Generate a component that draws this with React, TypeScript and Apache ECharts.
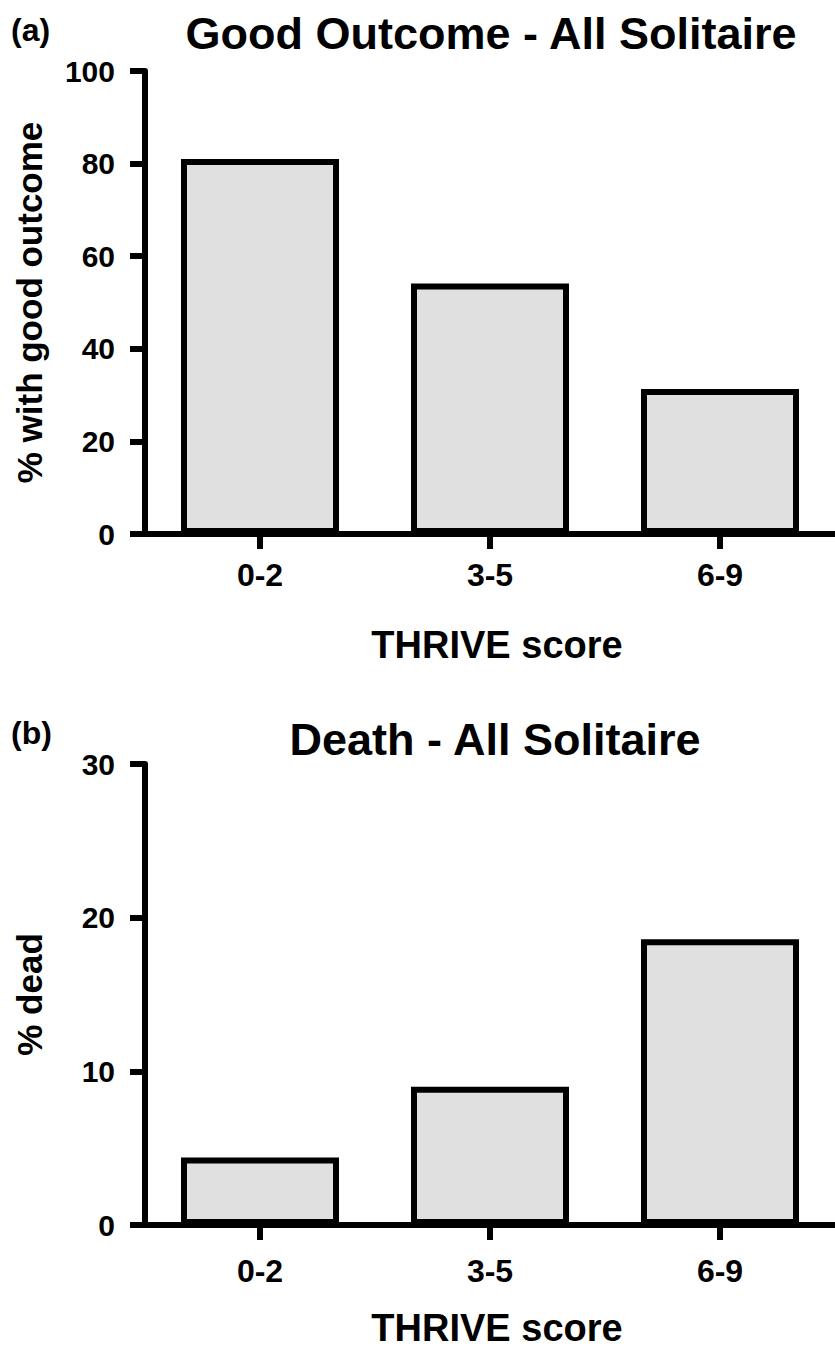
import React, { useEffect, useRef } from "react";
import * as echarts from "echarts";

const categories = ["0-2", "3-5", "6-9"];
const goodOutcomePct = [81.0, 54.1, 31.3];
const deathPct = [4.4, 9.0, 18.6];
const goodAxis = { min: 0, max: 100, interval: 20 };
const deathAxis = { min: 0, max: 30, interval: 10 };
const titles = ["Good Outcome - All Solitaire", "Death - All Solitaire"];
const panelLabels = ["(a)", "(b)"];
const yNames = ["% with good outcome", "% dead"];
const xName = "THRIVE score";

const FONT = "'Liberation Sans', Arial, Helvetica, sans-serif";
const LINE = { color: "#000", width: 6 };

function xAxisFor(gridIndex: number, margin: number, nameGap: number) {
  return {
    type: "category",
    gridIndex,
    data: categories,
    axisLine: { show: true, lineStyle: LINE },
    axisTick: { show: true, alignWithLabel: true, length: 15, lineStyle: LINE },
    axisLabel: { color: "#000", fontSize: 32, fontWeight: "bold", fontFamily: FONT, margin },
    name: xName,
    nameLocation: "middle",
    nameGap,
    nameTextStyle: { color: "#000", fontSize: 38, fontWeight: "bold", fontFamily: FONT, padding: [0, 0, 0, 14] },
  };
}

function yAxisFor(gridIndex: number, ax: { min: number; max: number; interval: number }, name: string) {
  return {
    type: "value",
    gridIndex,
    min: ax.min,
    max: ax.max,
    interval: ax.interval,
    splitLine: { show: false },
    axisLine: { show: true, lineStyle: LINE },
    axisTick: { show: true, length: 15, lineStyle: LINE },
    axisLabel: { color: "#000", fontSize: 30, fontWeight: "bold", fontFamily: FONT, margin: 30 },
    name,
    nameLocation: "middle",
    nameGap: 98,
    nameRotate: 90,
    nameTextStyle: { color: "#000", fontSize: 35, fontWeight: "bold", fontFamily: FONT },
  };
}

function barSeries(idx: number, data: number[]) {
  return {
    type: "bar",
    xAxisIndex: idx,
    yAxisIndex: idx,
    data,
    barWidth: 158,
    itemStyle: { color: "#e0e0e0", borderColor: "#000", borderWidth: 6 },
  };
}

function textEl(text: string, x: number, y: number, size: number, align: string) {
  return {
    type: "text",
    x,
    y,
    style: {
      text,
      fill: "#000",
      font: `bold ${size}px ${FONT}`,
      textAlign: align,
      textVerticalAlign: "middle",
    },
  };
}

export default function App() {
  const ref = useRef<HTMLDivElement>(null);
  useEffect(() => {
    if (!ref.current) return;
    const chart = echarts.init(ref.current, undefined, { renderer: "svg" });
    chart.setOption({
      animation: false,
      backgroundColor: "#fff",
      grid: [
        { left: 145, top: 71, width: 695, height: 463 },
        { left: 145, top: 764, width: 695, height: 461 },
      ],
      xAxis: [xAxisFor(0, 25, 92), xAxisFor(1, 30, 84)],
      yAxis: [yAxisFor(0, goodAxis, yNames[0]), yAxisFor(1, deathAxis, yNames[1])],
      series: [barSeries(0, goodOutcomePct), barSeries(1, deathPct)],
      graphic: [
        textEl(panelLabels[0], 11, 30, 32, "left"),
        textEl(titles[0], 491, 33, 45, "center"),
        textEl(panelLabels[1], 11, 733, 32, "left"),
        textEl(titles[1], 495, 739, 45, "center"),
      ],
    });
    return () => chart.dispose();
  }, []);
  return (
    <div
      ref={ref}
      style={{ position: "absolute", left: 0, top: 0, width: 835, height: 1349, background: "#fff" }}
    />
  );
}
